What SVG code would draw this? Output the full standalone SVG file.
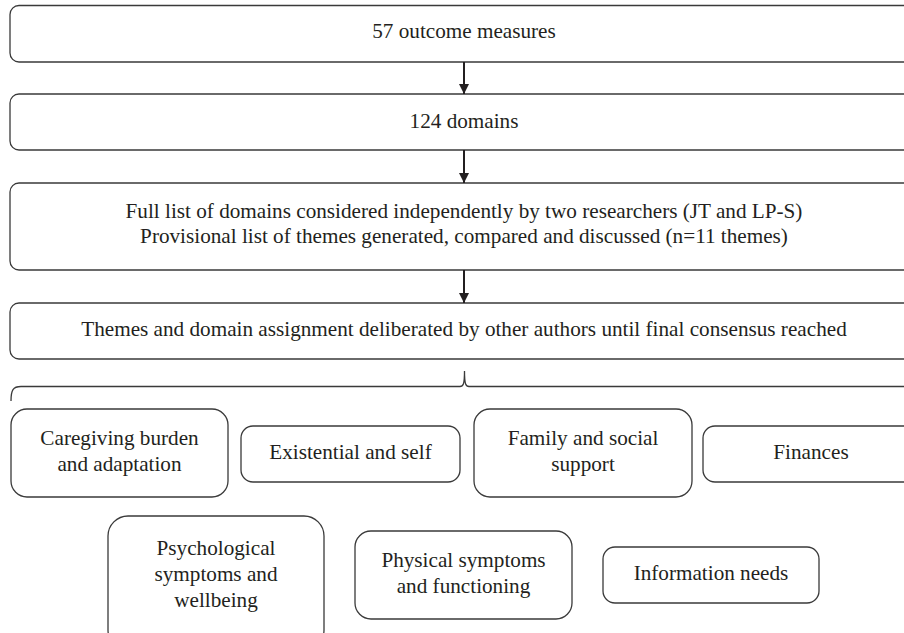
<svg xmlns="http://www.w3.org/2000/svg" width="904" height="633" viewBox="0 0 904 633">
<style>
.box{fill:#fff;stroke:#3a3a3a;stroke-width:1.3}
.t{font-size:21.2px;fill:#231f20;text-anchor:middle}
.conn{stroke:#231f20;stroke-width:2;fill:none}
.brace{stroke:#3a3a3a;stroke-width:1.3;fill:none}
</style>
<defs>
<marker id="ah" markerWidth="10" markerHeight="10" viewBox="0 0 10 10" refX="10" refY="5" orient="auto" markerUnits="userSpaceOnUse">
<path d="M0,0 L10,5 L0,10 z" fill="#231f20"/>
</marker>
</defs>
<rect width="904" height="633" fill="#fff"/>
<g font-family="'Liberation Serif', 'DejaVu Serif', serif">
<g id="n1"><rect class="box" x="10" y="5.5" width="908" height="56.5" rx="9"/><text class="t" x="464" y="38">57 outcome measures</text></g>
<g id="n2"><rect class="box" x="10" y="94" width="908" height="56" rx="9"/><text class="t" x="464" y="128">124 domains</text></g>
<g id="n3"><rect class="box" x="10" y="183" width="908" height="87" rx="9"/><text class="t" x="464" y="218">Full list of domains considered independently by two researchers (JT and LP-S)</text><text class="t" x="464" y="243">Provisional list of themes generated, compared and discussed (n=11 themes)</text></g>
<g id="n4"><rect class="box" x="10" y="303" width="908" height="56" rx="9"/><text class="t" x="464" y="336">Themes and domain assignment deliberated by other authors until final consensus reached</text></g>
<g id="n5"><rect class="box" x="11" y="409" width="217" height="88" rx="16"/><text class="t" x="119.5" y="445">Caregiving burden</text><text class="t" x="119.5" y="471">and adaptation</text></g>
<g id="n6"><rect class="box" x="241" y="426" width="219" height="56" rx="12"/><text class="t" x="350.5" y="459">Existential and self</text></g>
<g id="n7"><rect class="box" x="474" y="409" width="218" height="88" rx="16"/><text class="t" x="583" y="445">Family and social</text><text class="t" x="583" y="471">support</text></g>
<g id="n8"><rect class="box" x="703" y="426" width="217" height="56" rx="12"/><text class="t" x="811" y="459">Finances</text></g>
<g id="n9"><rect class="box" x="108" y="516" width="216" height="134" rx="20"/><text class="t" x="216" y="555">Psychological</text><text class="t" x="216" y="581">symptoms and</text><text class="t" x="216" y="607">wellbeing</text></g>
<g id="n10"><rect class="box" x="355" y="531" width="217" height="88" rx="16"/><text class="t" x="463.5" y="567">Physical symptoms</text><text class="t" x="463.5" y="593">and functioning</text></g>
<g id="n11"><rect class="box" x="603" y="547" width="216" height="56" rx="12"/><text class="t" x="711" y="580">Information needs</text></g>
</g>
<g id="connectors">
<line class="conn" x1="464" y1="62" x2="464" y2="94" marker-end="url(#ah)"/>
<line class="conn" x1="464" y1="150" x2="464" y2="183" marker-end="url(#ah)"/>
<line class="conn" x1="464" y1="270" x2="464" y2="303" marker-end="url(#ah)"/>
<path class="brace" d="M11,401 C11,390 13,386.5 21,386.5 L460,386.5 C463,386.5 464.5,385 464.5,371 C464.5,385 466,386.5 469,386.5 L920,386.5"/>
</g>
</svg>
